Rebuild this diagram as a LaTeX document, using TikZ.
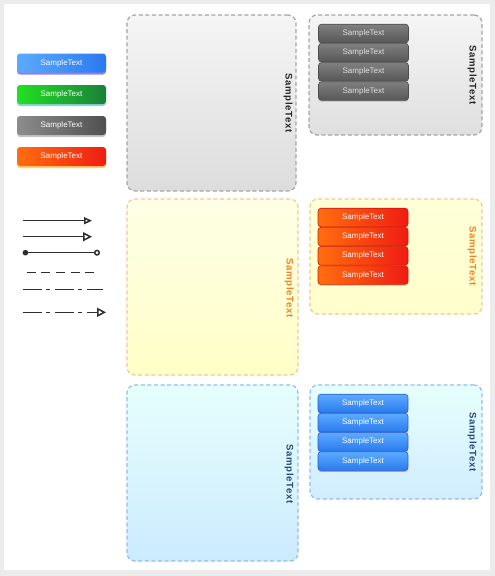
\documentclass[tikz,border=0pt]{standalone}
\usepackage{fontspec}
\setmainfont{Liberation Sans}
\newfontfamily\spacedfont[LetterSpace=7]{Liberation Sans}
\usepackage{xcolor}
\usetikzlibrary{arrows.meta,shadows,positioning}
\definecolor{pagegray}{RGB}{236,236,236}
\definecolor{legendgray}{RGB}{45,45,45}
\definecolor{bluetop}{RGB}{92,170,255}
\definecolor{bluebot}{RGB}{42,122,238}
\definecolor{blueedge}{RGB}{40,95,200}
\definecolor{greenleft}{RGB}{34,224,34}
\definecolor{greenright}{RGB}{26,128,58}
\definecolor{graytop}{RGB}{140,140,140}
\definecolor{graybot}{RGB}{80,80,80}
\definecolor{orangeleft}{RGB}{255,110,16}
\definecolor{orangeright}{RGB}{240,28,18}
\definecolor{grayframe}{RGB}{165,165,165}
\definecolor{yellowframe}{RGB}{248,196,146}
\definecolor{blueframe}{RGB}{145,188,240}
\definecolor{orangelabel}{RGB}{245,128,32}
\definecolor{bluelabel}{RGB}{40,72,122}

\begin{document}
\begin{tikzpicture}[x=1pt, y=-1pt,
  button/.style={rounded corners=3pt, minimum width=89pt, minimum height=19pt,
    inner sep=0pt, font=\fontsize{8}{9}\selectfont, text=white},
  stackbtn/.style={button, draw, line width=0.6pt, minimum width=90pt, minimum height=18.6pt},
  group/.style={draw, rounded corners=8pt, line width=1.2pt, dash pattern=on 4pt off 2.6pt,
    inner sep=0pt},
  grouplabel/.style={rotate=-90, font=\spacedfont\bfseries\fontsize{9.6}{11}\selectfont},
  legend/.style={draw=legendgray, line width=1.5pt},
  ]
  % Fond
  \useasboundingbox (0,0) rectangle (495,576);
  \fill[pagegray] (0,0) rectangle (495,576);
  \fill[white] (4,4) rectangle (490,570);

  % Boutons (legende)
  \node[button, left color=bluetop, right color=bluebot,
    drop shadow={shadow xshift=0pt, shadow yshift=-2pt, fill=blue!60!violet, opacity=0.5}]
    (bbtn) at (61.5,63) {SampleText};
  \node[button, left color=greenleft, right color=greenright,
    drop shadow={shadow xshift=0pt, shadow yshift=-2pt, fill=cyan!70!teal, opacity=0.5}]
    (gbtn) at (61.5,94.5) {SampleText};
  \node[button, left color=graytop, right color=graybot,
    drop shadow={shadow xshift=0pt, shadow yshift=-2pt, fill=gray, opacity=0.45}]
    (grbtn) at (61.5,125.5) {SampleText};
  \node[button, left color=orangeleft, right color=orangeright,
    drop shadow={shadow xshift=0pt, shadow yshift=-2pt, fill=orange!60!yellow, opacity=0.6}]
    (obtn) at (61.5,156.5) {SampleText};

  % Traits (legende)
  \coordinate (l1s) at (22.7,220.7); \coordinate (l1e) at (92,220.7);
  \coordinate (l2s) at (22.7,236.7); \coordinate (l2e) at (92,236.7);
  \coordinate (l3s) at (22.7,252.7); \coordinate (l3e) at (100,252.7);
  \coordinate (l4s) at (26.7,272.3); \coordinate (l4e) at (94.3,272.3);
  \coordinate (l5s) at (22.7,289.3); \coordinate (l5e) at (103.3,289.3);
  \coordinate (l6s) at (22.7,312.3); \coordinate (l6e) at (106,312.3);
  \draw[legend, -{Triangle[open, length=8pt, width=7pt]}] (l1s) -- (l1e);
  \draw[legend, -{Triangle[open, length=9pt, width=9pt]}] (l2s) -- (l2e);
  \draw[legend, {Circle[length=5.5pt]}-{Circle[open, length=6pt]}] (l3s) -- (l3e);
  \draw[legend, dash pattern=on 9pt off 5.6pt] (l4s) -- (l4e);
  \draw[legend, dash pattern=on 19pt off 4.5pt on 4pt off 4.5pt] (l5s) -- (l5e);
  \draw[legend, dash pattern=on 19pt off 4.5pt on 4pt off 4.5pt,
    -{Triangle[open, length=9pt, width=9pt]}] (l6s) -- (l6e);

  % Groupes (colonne gauche)
  \node[group, draw=grayframe, top color=gray!8, bottom color=gray!27,
    minimum width=169pt, minimum height=176pt] (grayL) at (211.5,103) {};
  \node[group, draw=yellowframe, top color=green!5!yellow!10, bottom color=yellow!22,
    minimum width=171pt, minimum height=176pt] (yellowL) at (212.5,287) {};
  \node[group, draw=blueframe, top color=green!12!cyan!10, bottom color=blue!40!cyan!20,
    minimum width=171pt, minimum height=176pt] (blueL) at (212.5,473) {};
  \node[grouplabel, text=black!85] (grayLlab) at (288,103) {SampleText};
  \node[grouplabel, text=orangelabel] (yellowLlab) at (289,288) {SampleText};
  \node[grouplabel, text=bluelabel] (blueLlab) at (289,474) {SampleText};

  % Groupes (colonne droite)
  \node[group, draw=grayframe, top color=gray!8, bottom color=gray!25,
    minimum width=173pt, minimum height=120pt] (grayR) at (395.5,75) {};
  \node[group, draw=yellowframe, top color=yellow!15, bottom color=yellow!20,
    minimum width=172pt, minimum height=115pt] (yellowR) at (396,256.5) {};
  \node[group, draw=blueframe, top color=green!12!cyan!10, bottom color=blue!40!cyan!18,
    minimum width=172pt, minimum height=114pt] (blueR) at (396,442) {};
  \node[grouplabel, text=black!85] (grayRlab) at (472,75) {SampleText};
  \node[grouplabel, text=orangelabel] (yellowRlab) at (472,256) {SampleText};
  \node[grouplabel, text=bluelabel] (blueRlab) at (472,442) {SampleText};

  % Piles de boutons
  \tikzset{
    graystack/.style={stackbtn, draw=black!70, top color=black!50, bottom color=black!66,
      text=white!88!black, drop shadow={shadow xshift=0pt, shadow yshift=-1.5pt, opacity=0.25}},
    orangestack/.style={stackbtn, draw=orangeright!85!black, left color=orangeleft, right color=orangeright,
      drop shadow={shadow xshift=0pt, shadow yshift=-1.5pt, fill=orange!60!yellow, opacity=0.5}},
    bluestack/.style={stackbtn, draw=blueedge, top color=bluetop, bottom color=bluebot,
      drop shadow={shadow xshift=0pt, shadow yshift=-1.5pt, fill=blue!60!violet, opacity=0.35}},
  }
  \node[graystack] (gs1) at (363.5,33.5) {SampleText};
  \node[graystack, below=0pt of gs1] (gs2) {SampleText};
  \node[graystack, below=0pt of gs2] (gs3) {SampleText};
  \node[graystack, below=0pt of gs3] (gs4) {SampleText};

  \node[orangestack] (os1) at (363,217.5) {SampleText};
  \node[orangestack, below=0pt of os1] (os2) {SampleText};
  \node[orangestack, below=0pt of os2] (os3) {SampleText};
  \node[orangestack, below=0pt of os3] (os4) {SampleText};

  \node[bluestack] (bs1) at (363,403.5) {SampleText};
  \node[bluestack, below=0pt of bs1] (bs2) {SampleText};
  \node[bluestack, below=0pt of bs2] (bs3) {SampleText};
  \node[bluestack, below=0pt of bs3] (bs4) {SampleText};
\end{tikzpicture}
\end{document}
